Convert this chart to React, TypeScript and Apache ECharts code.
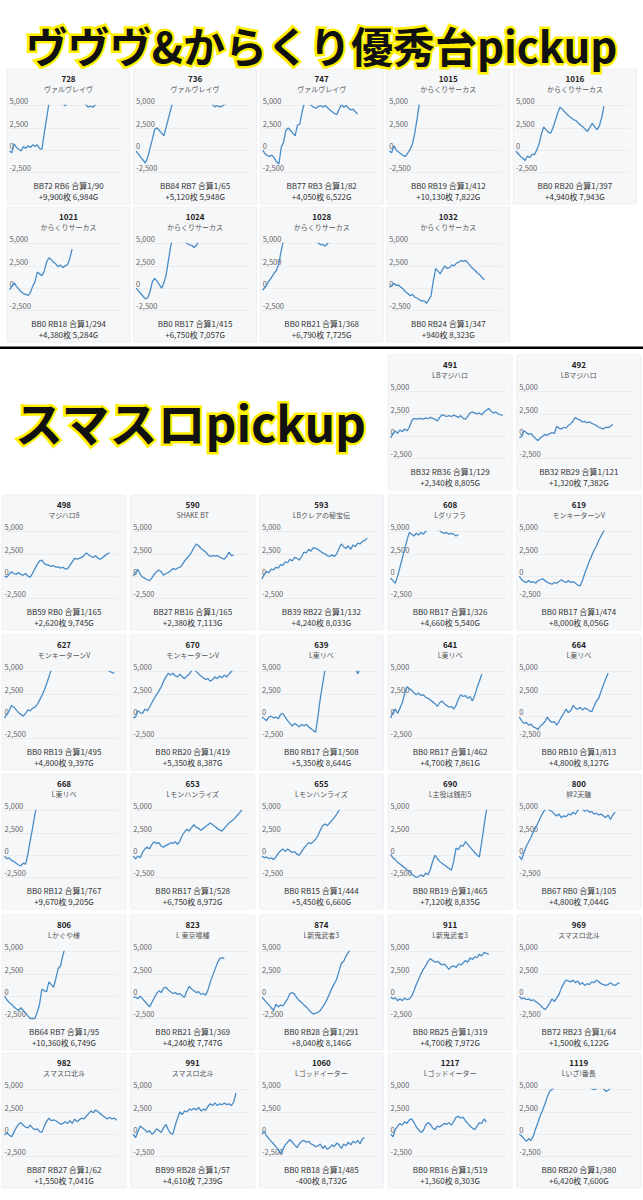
import React, { useEffect, useRef } from 'react';
import * as echarts from 'echarts';

// ---------- data ----------
const machineNo = ['728','736','747','1015','1016','1021','1024','1028','1032','491','492','498','590','593','608','619','627','670','639','641','664','668','653','655','690','800','806','823','874','911','969','982','991','1060','1217','1119'];
const machineName = ['ヴァルヴレイヴ','ヴァルヴレイヴ','ヴァルヴレイヴ','からくりサーカス','からくりサーカス','からくりサーカス','からくりサーカス','からくりサーカス','からくりサーカス','LBマジハロ','LBマジハロ','マジハロ8','SHAKE BT','LBクレアの秘宝伝','Lダリフラ','モンキーターンV','モンキーターンV','モンキーターンV','L東リベ','L東リベ','L東リベ','L東リベ','Lモンハンライズ','Lモンハンライズ','L主役は銭形5','絆2天膳','Lかぐや様','L 東京喰種','L新鬼武者3','L新鬼武者3','スマスロ北斗','スマスロ北斗','スマスロ北斗','Lゴッドイーター','Lゴッドイーター','Lいざ!番長'];
const bbCount = [72,84,77,0,0,0,0,0,0,32,32,59,27,39,0,0,0,0,0,0,0,0,0,0,0,67,64,0,0,0,72,87,99,0,0,0];
const rbCount = [6,7,3,19,20,18,17,21,24,36,29,0,16,22,17,17,19,20,17,17,10,12,17,15,19,0,7,21,28,25,23,27,28,18,16,20];
const combinedOdds = [90,65,82,412,397,294,415,368,347,129,121,165,165,132,326,474,495,419,508,462,813,767,528,444,465,105,95,369,291,319,64,62,57,485,519,380];
const medalDiff = [9900,5120,4050,10130,4940,4380,6750,6790,940,2340,1320,2620,2380,4240,4660,8000,4800,5350,5350,4700,4800,9670,6750,5450,7120,4800,10360,4240,8040,4700,1500,1550,4610,-400,1360,6420];
const gamesPlayed = [6984,5948,6522,7822,7943,5284,7057,7725,8323,8805,7382,9745,7113,8033,5540,8056,9397,8387,8644,7861,8127,9205,8972,6660,8835,7044,6749,7747,8146,7972,6122,7041,7239,8732,8303,7600];

const yTicks = [-2500, 0, 2500, 5000];

const s728 = [-100,-300,700,300,100,-100,400,200,500,300,600,400,600,200,100,1900,3500,5200,5600,5900,6100,5800,5500,5300,4950,5300,5700,6000,5800,5600,5400,5500,5300,5100,4800,4950,4800,5100,5800,6500,7200,8000,8800,9400,9900];
const s736 = [-100,-450,-800,-1100,-1450,-800,200,1200,2300,2500,2200,1900,1600,2600,3600,4600,5500,5800,6200,6500,6300,6000,6200,6500,6300,6000,5800,5900,5700,5500,5600,5400,5300,5100,4850,5000,4850,4900,5100,5120];
const s747 = [0,-400,-600,-700,-550,-900,-1300,-1550,300,900,2200,2500,2200,1900,1600,2800,2900,4300,5300,5600,5300,5000,4800,4700,4900,5000,4800,5000,4750,4500,4300,4100,4000,4600,5100,4800,5000,4700,4500,4600,4300,4050];
const s1015 = [-100,-300,500,0,-200,-400,-600,-700,-300,100,700,1900,3500,5300,5800,6300,6800,7200,7600,8000,8300,8600,8900,9100,9300,9500,9700,9900,10130];
const s1016 = [-100,-400,-700,-900,-1150,-650,-850,-450,-500,0,700,1800,2600,2300,2000,1900,2500,3300,4100,4800,4600,4300,4000,3800,3600,3400,3300,3000,2800,2600,2300,2100,2600,3000,2600,2300,2700,3600,4940];
const s1021 = [-200,200,600,200,-100,-400,-600,-700,-800,-500,200,700,1800,1600,1400,1900,2900,3400,3200,2900,2700,2400,2600,2300,2500,2600,3300,4380];
const s1024 = [0,-300,-600,-900,-1200,-1100,-400,700,1100,800,400,0,600,1500,3200,4800,5600,6000,5800,5500,5200,5300,5000,4850,4800,4550,4800,5200,5800,6300,6750];
const s1028 = [-200,100,500,900,1300,1700,2000,2800,4200,5400,5800,6200,6500,6700,6500,6300,6100,6000,5800,5700,5600,5400,5300,5200,5050,4850,4900,4700,5000,5500,6000,6400,6790];
const s1032 = [100,300,550,300,350,100,-100,-400,-600,-850,-700,-1000,-1100,-1300,-1450,-1400,-1700,-1300,-900,800,2200,1900,1600,2100,2500,2200,2300,2600,2500,2800,2900,3100,3000,3100,2800,2500,2200,2000,1700,1500,1200,940];
const s491 = [-200,300,600,300,700,500,800,600,1000,1700,2000,1900,1950,2000,1900,2050,1950,2100,2000,1900,1700,2100,2400,2300,2200,2300,2200,2350,2250,2100,2300,2000,1900,2200,2600,2700,2600,2500,2600,2400,2700,2900,3100,2800,2600,2700,2500,2400,2340];
const s492 = [-150,-50,600,400,200,300,0,-300,-500,-200,0,200,100,300,400,300,1100,900,800,1000,900,1200,1400,1700,2100,1900,1800,1600,1650,1500,1600,1450,1300,1200,1000,900,800,1000,950,1100,1320];
const s498 = [0,-100,200,500,300,200,400,200,100,300,0,-100,300,850,1300,1700,1800,1400,1300,1200,1100,1200,1000,1050,900,1000,800,850,1200,1600,2000,1900,2000,2100,2300,2600,2400,2200,2100,2300,2000,1900,2100,2300,2500,2620];
const s590 = [0,400,750,200,-100,-250,-400,-500,-200,200,500,700,500,100,300,400,600,850,750,900,1000,1300,1700,2000,2300,2700,3200,3600,3400,3100,2900,2700,2400,2200,2300,2250,2300,2150,2000,1900,2200,2700,2300,2380];
const s593 = [-300,200,500,400,800,700,1000,900,1300,1200,1600,1500,1900,1700,2100,2000,1800,2200,2700,2600,3000,2800,3200,3100,3000,2800,2600,2500,2300,2200,2400,2200,2500,3100,3600,3300,3100,3400,3000,3500,3300,3700,3600,3900,4000,4240];
const s608 = [-200,-500,-800,0,1000,2000,3000,4000,4900,4700,4500,4800,4600,4900,4700,5000,5300,5400,5300,5500,5300,5100,4900,4800,4900,4700,4800,4700,4500,4660];
const s619 = [0,-400,-600,-700,-500,-700,-600,-800,-500,-400,-300,-500,-700,-800,-900,-700,-800,-600,-400,-600,-700,-500,-700,-600,-800,-1000,-1100,-500,300,1000,1700,2300,2900,3400,4000,4500,5000,5300,6000,6700,7400,8000];
const s627 = [-200,200,600,1200,1000,700,400,200,0,300,700,600,900,1000,1300,1800,2300,2900,3600,4400,5200,5600,6000,6300,6500,6600,6400,6200,6000,5900,6100,6300,6500,6400,6200,6000,5900,5800,5700,5600,5500,5400,5400,5400,5300,5000,4900,4800];
const s670 = [-200,-100,600,400,300,800,600,1000,1500,2000,2400,2800,3300,3900,4400,4800,4600,4800,4500,4400,4700,4400,4200,4500,4700,5100,5300,5000,4700,4500,4300,4100,4200,3900,4100,4400,4200,4500,4300,4600,4400,4700,5000,5350];
const s639 = [-100,-300,-500,-100,0,-200,-100,-300,200,300,-100,-500,-800,-1100,-800,-1000,-1200,-900,-1100,-900,-1200,-1400,-1600,-1800,0,2000,3600,5200,5800,6300,6600,6800,6600,6400,6200,6000,5800,5700,5600,5500,5300,4750,5300,5350];
const s641 = [-200,400,800,300,900,1500,2500,3300,3100,2900,2600,2400,2600,2300,2400,2100,2000,1800,1600,1400,1100,1500,1700,1400,1200,1000,1100,800,1200,1900,2400,2200,2300,2000,2200,1700,2300,3200,3900,4700];
const s664 = [-100,-500,-800,-700,-1000,-900,-1200,-1300,-1500,-1100,-900,-600,-100,-500,-700,-600,-1000,-600,-100,300,800,400,600,1200,900,800,1000,700,900,800,600,500,1100,1700,2000,2800,3500,4200,4800];
const s668 = [-100,-400,-300,-600,-700,-900,-1100,-1200,-900,-1000,100,1600,3000,4600,5600,6200,6800,7300,7800,8300,8800,9200,9670];
const s653 = [-100,-400,-100,-300,300,700,900,700,1200,1500,1300,1400,1000,900,1100,1200,1400,1300,1500,1200,1600,2200,2600,2900,2700,3100,3400,3100,3000,2800,3000,3200,3400,3600,3400,3200,3000,2800,2700,3000,3300,3600,3800,4000,4300,4600,4900,5400,6750];
const s655 = [-100,-300,-200,-400,-300,-500,-200,200,500,700,400,700,500,300,400,100,0,400,800,1100,1400,1300,1500,1800,2200,2800,3300,3500,3300,3600,3900,4200,4600,5000,5450];
const s690 = [100,-300,-500,-800,-1000,-1200,-1400,-1600,-1800,-2100,-2300,-2500,-2400,-2200,-2400,-2000,-2200,-1600,-700,0,-400,-700,-900,-1100,-1300,-1500,-1700,-700,800,600,1100,1000,1500,1200,900,600,300,0,-200,1500,3300,5000,6000,7120];
const s800 = [-100,-500,300,1000,1500,2000,2600,3100,3600,4200,4700,5100,5300,5000,4900,4600,4400,4600,4200,4400,4300,4600,4500,4800,4600,5000,5300,5200,4900,5100,4800,4900,4600,4700,4500,4600,4400,4200,4500,4000,4500,4800];
const s806 = [0,-400,-700,-900,-1200,-1400,-1600,-1300,-1600,-1900,-2200,-2500,-2500,-2500,-1800,-900,800,600,500,1600,1300,1000,2000,3100,3400,4600,5500,6500,7500,8500,9400,10360];
const s823 = [-100,-100,-300,0,-300,-600,-900,-1200,-700,-200,300,600,400,900,1000,700,500,300,400,200,300,0,-100,600,1100,800,600,400,500,200,300,100,700,1600,2300,3000,3700,4200,4300,4240];
const s874 = [-100,-400,-700,-1000,-1300,-1600,-900,-1200,-1000,-1100,-700,-300,300,400,200,-200,-500,-700,-1000,-1200,-1500,-1800,-2000,-1900,-1800,-1600,-1200,-800,-300,300,900,1400,1900,2800,3700,3900,4500,4900,5300,6200,7100,8040];
const s911 = [-100,-300,-200,-500,-300,-500,-200,-400,-300,0,600,1300,1900,2500,3000,3400,3900,4200,4000,3800,3900,3700,3500,3600,3300,3000,3300,3400,3200,3600,3500,3700,4000,3800,4300,4100,4400,4300,4700,4500,4900,4800,4700];
const s969 = [0,-300,-200,-400,-300,-500,-400,-600,-800,-1000,-1300,-1500,-1200,-800,-300,-600,-200,200,900,1400,1800,1700,1600,1800,1500,1700,1300,1500,1200,1400,1300,1600,1500,1800,1600,1400,1300,1200,1300,1500,1300,1200,1400,1500];
const s982 = [-100,200,-100,-300,200,700,1100,1300,1000,800,700,1000,700,500,600,300,200,900,1400,1800,1500,1600,1500,1300,1100,1200,1400,1200,1500,1200,1700,1400,1600,1800,1700,2000,2300,2600,2400,2700,2500,2300,2100,1900,1700,1900,1700,1800,1550];
const s991 = [0,-400,300,900,700,500,200,400,0,200,600,400,200,700,1100,500,100,0,1000,1800,2500,2200,2600,2500,2800,2700,2900,2700,3000,2600,2800,2700,3100,3400,3200,3500,3200,3400,3300,3500,3300,3400,3200,3600,4610];
const s1060 = [0,300,-200,-500,-800,-1100,-1400,-1700,-2200,-1700,-1200,-900,-600,-900,-1200,-1500,-1100,-800,-700,-900,-800,-1100,-1200,-1400,-1300,-1100,-1600,-1300,-1700,-1500,-1200,-1400,-1000,-1200,-1600,-1100,-1300,-900,-1200,-800,-1000,-700,-1100,-500,-400];
const s1217 = [0,-300,500,900,1200,1000,1400,1200,1600,1700,1300,800,500,200,400,1000,1300,1100,700,500,900,800,1000,1200,1100,1300,1000,1400,1900,2000,1800,1900,1500,1200,900,700,500,900,1300,1200,1700,1360];
const s1119 = [0,-200,-500,-800,-500,-700,-200,600,1300,2100,2700,3400,4200,4800,5000,5200,5600,5900,6100,6300,6200,6000,5900,5700,5600,5500,5400,5300,5200,5300,5200,5100,4980,5100,5400,5300,5100,4800,4900,5200,5800,6420];

const curves = [s728,s736,s747,s1015,s1016,s1021,s1024,s1028,s1032,s491,s492,s498,s590,s593,s608,s619,s627,s670,s639,s641,s664,s668,s653,s655,s690,s800,s806,s823,s874,s911,s969,s982,s991,s1060,s1217,s1119];

// ---------- layout ----------
const SLOTS = 50;
const FONT = '"Noto Sans CJK JP", "Noto Sans", sans-serif';
const S1X = [7, 133.6, 260.2, 386.8, 513.4];
const S2X = [2, 130.7, 259.4, 388.1, 516.8];
const ROWS = [
  { numY: 78, xs: S1X, w: 123, cols: [0, 1, 2, 3, 4] },
  { numY: 216, xs: S1X, w: 123, cols: [0, 1, 2, 3] },
  { numY: 364, xs: S2X, w: 124, cols: [3, 4] },
  { numY: 504, xs: S2X, w: 124, cols: [0, 1, 2, 3, 4] },
  { numY: 644, xs: S2X, w: 124, cols: [0, 1, 2, 3, 4] },
  { numY: 783, xs: S2X, w: 124, cols: [0, 1, 2, 3, 4] },
  { numY: 924, xs: S2X, w: 124, cols: [0, 1, 2, 3, 4] },
  { numY: 1062, xs: S2X, w: 124, cols: [0, 1, 2, 3, 4] },
];
const PX_PER_2500 = 67 / 3;

const fmt = (v: number) => v.toLocaleString('en-US');

function buildOption() {
  const grids: any[] = [];
  const xAxes: any[] = [];
  const yAxes: any[] = [];
  const series: any[] = [];
  const graphics: any[] = [];
  const slots = Array.from({ length: SLOTS }, (_, i) => i);

  let idx = 0;
  ROWS.forEach((row) => {
    row.cols.forEach((c) => {
      const i = idx++;
      const x = row.xs[c];
      const w = row.w;
      const cx = x + w / 2;
      const ny = row.numY;
      graphics.push({
        type: 'rect', z: -10, silent: true,
        shape: { x, y: ny - 9, width: w, height: 135, r: 1 },
        style: { fill: '#f6f7f9', stroke: '#e8eaee', lineWidth: 0.7 },
      });
      graphics.push({
        type: 'text', z: 10, x: cx, y: ny, silent: true,
        style: { text: machineNo[i], fontSize: 8, fontWeight: 'bold', fontFamily: FONT, fill: '#222', align: 'center', verticalAlign: 'middle' },
      });
      graphics.push({
        type: 'text', z: 10, x: cx, y: ny + 11, silent: true,
        style: { text: machineName[i], fontSize: 7, fontFamily: FONT, fill: '#555', align: 'center', verticalAlign: 'middle' },
      });
      graphics.push({
        type: 'text', z: 10, x: cx, y: ny + 107, silent: true,
        style: { text: `BB${bbCount[i]} RB${rbCount[i]} 合算1/${combinedOdds[i]}`, fontSize: 8, fontFamily: FONT, fill: '#333', align: 'center', verticalAlign: 'middle' },
      });
      const d = medalDiff[i];
      graphics.push({
        type: 'text', z: 10, x: cx, y: ny + 118, silent: true,
        style: { text: `${d >= 0 ? '+' : ''}${fmt(d)}枚 ${fmt(gamesPlayed[i])}G`, fontSize: 8, fontFamily: FONT, fill: '#333', align: 'center', verticalAlign: 'middle' },
      });

      grids.push({ left: x + 2.5, top: ny + 27.5, width: w - 9.5, height: PX_PER_2500 * 4, containLabel: false });
      xAxes.push({ gridIndex: i, type: 'category', data: slots, boundaryGap: false, show: false });
      yAxes.push({
        gridIndex: i, type: 'value', min: -5000, max: 5000, interval: 2500,
        axisLine: { show: false }, axisTick: { show: false },
        splitLine: { show: true, showMinLine: false, lineStyle: { color: '#e6e7ea', width: 0.7 } },
        axisLabel: {
          show: true, inside: true, margin: 0, verticalAlign: 'bottom', padding: [0, 0, 1, 0],
          fontSize: 7.5, color: '#666', fontFamily: FONT, showMinLabel: false,
          formatter: (v: number) => (yTicks.indexOf(v) >= 0 ? fmt(v) : ''),
        },
      });
      series.push({
        type: 'line', xAxisIndex: i, yAxisIndex: i, data: curves[i],
        showSymbol: false, symbol: 'none', clip: true, silent: true,
        lineStyle: { color: '#4a8cc6', width: 1.3 }, z: 3,
      });
    });
  });

  // titles and separator
  const title1 = 'ヴヴヴ&からくり優秀台pickup';
  const title2 = 'スマスロpickup';
  graphics.push({
    type: 'text', z: 20, x: 321.5, y: 44, silent: true,
    style: { text: title1, fontSize: 42, lineHeight: 42, fontWeight: 'bold', fontFamily: FONT, fill: '#fff000', stroke: '#fff000', lineWidth: 5, align: 'center', verticalAlign: 'middle', shadowColor: '#ffe600', shadowBlur: 6 },
  });
  graphics.push({
    type: 'text', z: 21, x: 321.5, y: 44, silent: true,
    style: { text: title1, fontSize: 42, lineHeight: 42, fontWeight: 'bold', fontFamily: FONT, fill: '#111', align: 'center', verticalAlign: 'middle' },
  });
  graphics.push({
    type: 'text', z: 20, x: 15, y: 421, silent: true,
    style: { text: title2, fontSize: 48, lineHeight: 48, fontWeight: 'bold', fontFamily: FONT, fill: '#fff000', stroke: '#fff000', lineWidth: 5, align: 'left', verticalAlign: 'middle', shadowColor: '#ffe600', shadowBlur: 6 },
  });
  graphics.push({
    type: 'text', z: 21, x: 15, y: 421, silent: true,
    style: { text: title2, fontSize: 48, lineHeight: 48, fontWeight: 'bold', fontFamily: FONT, fill: '#111', align: 'left', verticalAlign: 'middle' },
  });
  graphics.push({
    type: 'rect', z: 20, silent: true,
    shape: { x: 0, y: 346.5, width: 643, height: 2.6 },
    style: { fill: '#000' },
  });

  return {
    animation: false,
    backgroundColor: '#ffffff',
    grid: grids,
    xAxis: xAxes,
    yAxis: yAxes,
    series,
    graphic: { elements: graphics },
  };
}

export default function App() {
  const ref = useRef<HTMLDivElement>(null);
  useEffect(() => {
    const chart = echarts.init(ref.current!, null, { renderer: 'svg' });
    chart.setOption(buildOption());
    return () => chart.dispose();
  }, []);
  return (
    <div
      ref={ref}
      style={{ position: 'absolute', left: 0, top: 0, width: 643, height: 1200, background: '#fff' }}
    />
  );
}
